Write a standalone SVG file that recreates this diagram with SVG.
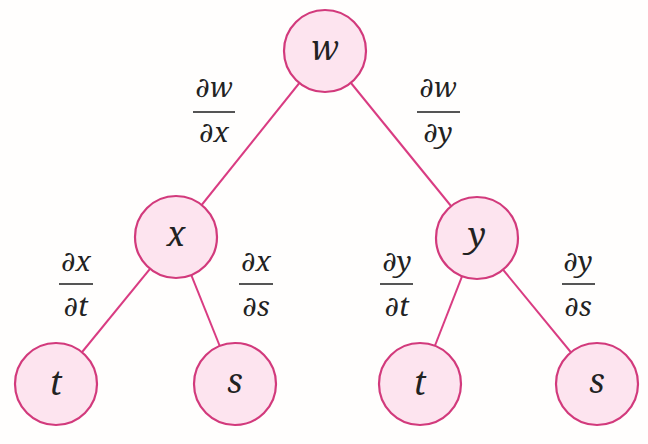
<svg xmlns="http://www.w3.org/2000/svg" width="648" height="444" viewBox="0 0 648 444">
<style>
.edge{stroke:#d93c82;stroke-width:2;fill:none}
.node circle{fill:#fde4ef;stroke:#d23a7c;stroke-width:2.2}
.node text{font-family:"Noto Serif","DejaVu Serif",serif;font-style:italic;font-size:34px;fill:#222;text-anchor:middle}
.frac text{font-family:"Noto Serif","DejaVu Serif",serif;font-size:28px;fill:#222;text-anchor:middle}
.frac line{stroke:#555;stroke-width:2}
.it{font-style:italic}
</style>
<rect width="648" height="444" fill="#fffefd"/>
<g id="connectors">
<line class="edge" x1="325" y1="51" x2="176" y2="237"/>
<line class="edge" x1="325" y1="51" x2="477" y2="238"/>
<line class="edge" x1="176" y1="237" x2="56" y2="384"/>
<line class="edge" x1="176" y1="237" x2="235" y2="384"/>
<line class="edge" x1="477" y1="238" x2="420" y2="384"/>
<line class="edge" x1="477" y1="238" x2="597" y2="384"/>
</g>
<g id="node-w" class="node"><circle cx="325" cy="51" r="41"/><text x="325" y="60">w</text></g>
<g id="node-x" class="node"><circle cx="176" cy="237" r="41"/><text x="176" y="246">x</text></g>
<g id="node-y" class="node"><circle cx="477" cy="238" r="41"/><text x="477" y="247">y</text></g>
<g id="node-t1" class="node"><circle cx="56" cy="384" r="41"/><text x="56" y="395">t</text></g>
<g id="node-s1" class="node"><circle cx="235" cy="384" r="41"/><text x="235" y="393">s</text></g>
<g id="node-t2" class="node"><circle cx="420" cy="384" r="41"/><text x="420" y="395">t</text></g>
<g id="node-s2" class="node"><circle cx="597" cy="384" r="41"/><text x="597" y="393">s</text></g>
<g id="label-dwdx" class="frac"><text x="214" y="97">∂<tspan class="it">w</tspan></text><line x1="193" y1="112" x2="235" y2="112"/><text x="214" y="142">∂<tspan class="it">x</tspan></text></g>
<g id="label-dwdy" class="frac"><text x="438" y="97">∂<tspan class="it">w</tspan></text><line x1="417" y1="112" x2="460" y2="112"/><text x="438" y="142">∂<tspan class="it">y</tspan></text></g>
<g id="label-dxdt" class="frac"><text x="76" y="271">∂<tspan class="it">x</tspan></text><line x1="59" y1="284" x2="93" y2="284"/><text x="76" y="316">∂<tspan class="it">t</tspan></text></g>
<g id="label-dxds" class="frac"><text x="256" y="271">∂<tspan class="it">x</tspan></text><line x1="239" y1="284" x2="273" y2="284"/><text x="256" y="316">∂<tspan class="it">s</tspan></text></g>
<g id="label-dydt" class="frac"><text x="397" y="271">∂<tspan class="it">y</tspan></text><line x1="380" y1="284" x2="413" y2="284"/><text x="397" y="316">∂<tspan class="it">t</tspan></text></g>
<g id="label-dyds" class="frac"><text x="578" y="271">∂<tspan class="it">y</tspan></text><line x1="562" y1="284" x2="595" y2="284"/><text x="578" y="316">∂<tspan class="it">s</tspan></text></g>
</svg>
